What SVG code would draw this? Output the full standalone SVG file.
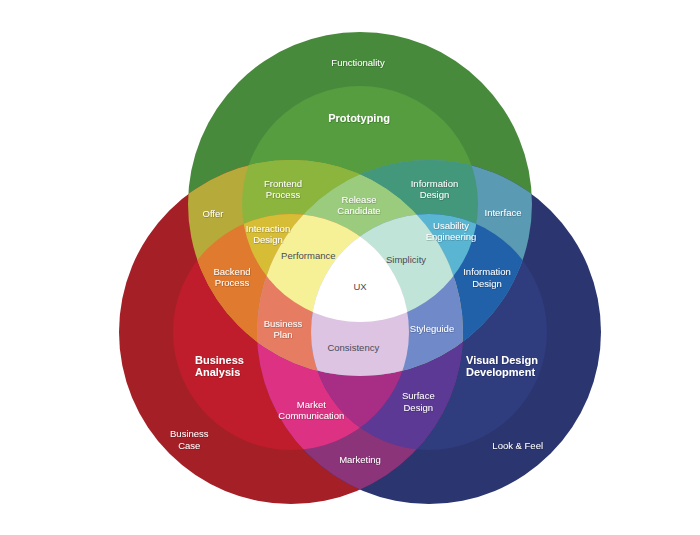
<svg xmlns="http://www.w3.org/2000/svg" width="700" height="535" viewBox="0 0 700 535">
<defs>
<clipPath id="cG1"><circle cx="360" cy="204" r="172"/></clipPath>
<clipPath id="cG2"><circle cx="360" cy="204" r="118"/></clipPath>
<clipPath id="cR1"><circle cx="291" cy="332" r="172"/></clipPath>
<clipPath id="cR2"><circle cx="291" cy="332" r="118"/></clipPath>
<clipPath id="cB1"><circle cx="429" cy="332" r="172"/></clipPath>
<clipPath id="cB2"><circle cx="429" cy="332" r="118"/></clipPath>
<filter id="sh" x="-10%" y="-30%" width="120%" height="160%"><feDropShadow dx="0.4" dy="0.6" stdDeviation="0.5" flood-color="#000" flood-opacity="0.35"/></filter>
</defs>
<style>
text{font-family:"Liberation Sans",Arial,sans-serif;font-size:9.5px;text-anchor:middle;fill:#ffffff}
.lt{filter:url(#sh)}
.dk{fill:#4a4a58}
.b{font-weight:bold;font-size:11px}
.l{text-anchor:start}
</style>
<rect width="700" height="535" fill="#ffffff"/>
<g id="regions">
<!-- sum 1 -->
<g id="functionality-area"><circle cx="360" cy="204" r="172" fill="#488a3b"/></g>
<g id="business-case-area"><circle cx="291" cy="332" r="172" fill="#a51f27"/></g>
<g id="look-feel-area"><circle cx="429" cy="332" r="172" fill="#2b356f"/></g>
<!-- sum 2 -->
<g id="prototyping-area"><circle cx="360" cy="204" r="118" fill="#559d3e"/></g>
<g id="business-analysis-area"><circle cx="291" cy="332" r="118" fill="#bf1d2b"/></g>
<g id="visual-design-area"><circle cx="429" cy="332" r="118" fill="#2f3c7e"/></g>
<g id="offer-area" clip-path="url(#cG1)"><circle cx="291" cy="332" r="172" fill="#b6aa3a"/></g>
<g id="interface-area" clip-path="url(#cG1)"><circle cx="429" cy="332" r="172" fill="#5a9ab3"/></g>
<g id="marketing-area" clip-path="url(#cR1)"><circle cx="429" cy="332" r="172" fill="#8b3479"/></g>
<!-- sum 3 -->
<g id="frontend-area" clip-path="url(#cR1)"><circle cx="360" cy="204" r="118" fill="#8cb53d"/></g>
<g id="backend-area" clip-path="url(#cG1)"><circle cx="291" cy="332" r="118" fill="#df7a2f"/></g>
<g id="info-design-green-area" clip-path="url(#cB1)"><circle cx="360" cy="204" r="118" fill="#43977a"/></g>
<g id="info-design-blue-area" clip-path="url(#cG1)"><circle cx="429" cy="332" r="118" fill="#2061a9"/></g>
<g id="market-communication-area" clip-path="url(#cB1)"><circle cx="291" cy="332" r="118" fill="#dd3283"/></g>
<g id="surface-design-area" clip-path="url(#cR1)"><circle cx="429" cy="332" r="118" fill="#5b3994"/></g>
<g id="triple-outer-area" clip-path="url(#cG1)"><g clip-path="url(#cR1)"><circle cx="429" cy="332" r="172" fill="#9bcb7c"/></g></g>
<!-- sum 4 -->
<g id="interaction-design-area" clip-path="url(#cG2)"><circle cx="291" cy="332" r="118" fill="#d6bd35"/></g>
<g id="usability-area" clip-path="url(#cG2)"><circle cx="429" cy="332" r="118" fill="#5ab5d3"/></g>
<g id="red-blue-inner-area" clip-path="url(#cR2)"><circle cx="429" cy="332" r="118" fill="#a82e85"/></g>
<g id="release-candidate-area" clip-path="url(#cR1)"><g clip-path="url(#cB1)"><circle cx="360" cy="204" r="118" fill="#9bcb7c"/></g></g>
<g id="business-plan-area" clip-path="url(#cG1)"><g clip-path="url(#cB1)"><circle cx="291" cy="332" r="118" fill="#e67d62"/></g></g>
<g id="styleguide-area" clip-path="url(#cG1)"><g clip-path="url(#cR1)"><circle cx="429" cy="332" r="118" fill="#6f89c9"/></g></g>
<!-- sum 5 -->
<g id="performance-area" clip-path="url(#cR2)"><g clip-path="url(#cB1)"><circle cx="360" cy="204" r="118" fill="#f6f196"/></g></g>
<g id="simplicity-area" clip-path="url(#cB2)"><g clip-path="url(#cR1)"><circle cx="360" cy="204" r="118" fill="#c0e5d8"/></g></g>
<g id="consistency-area" clip-path="url(#cB2)"><g clip-path="url(#cG1)"><circle cx="291" cy="332" r="118" fill="#dcc4e2"/></g></g>
<!-- sum 6 -->
<g id="ux-area" clip-path="url(#cR2)"><g clip-path="url(#cB2)"><circle cx="360" cy="204" r="118" fill="#ffffff"/></g></g>
</g>
<g id="labels">
<g id="label-functionality"><text class="lt" x="358" y="65.5">Functionality</text></g>
<g id="label-prototyping"><text class="lt b" x="359" y="122">Prototyping</text></g>
<g id="label-frontend"><text class="lt" x="283" y="186.7">Frontend<tspan x="283" y="197.5">Process</tspan></text></g>
<g id="label-release"><text class="lt" x="359" y="202.7">Release<tspan x="359" y="214">Candidate</tspan></text></g>
<g id="label-info-design-1"><text class="lt" x="434.5" y="187">Information<tspan x="434.5" y="198">Design</tspan></text></g>
<g id="label-offer"><text class="lt" x="213" y="216.6">Offer</text></g>
<g id="label-interface"><text class="lt" x="503" y="216">Interface</text></g>
<g id="label-interaction"><text class="lt" x="268" y="231.6">Interaction<tspan x="268" y="243">Design</tspan></text></g>
<g id="label-usability"><text class="lt" x="451" y="228.6">Usability<tspan x="451" y="240">Engineering</tspan></text></g>
<g id="label-performance"><text class="dk" x="308.3" y="259.3">Performance</text></g>
<g id="label-simplicity"><text class="dk" x="406" y="263.3">Simplicity</text></g>
<g id="label-backend"><text class="lt" x="232" y="275">Backend<tspan x="232" y="286.3">Process</tspan></text></g>
<g id="label-info-design-2"><text class="lt" x="487" y="275">Information<tspan x="487" y="286.6">Design</tspan></text></g>
<g id="label-ux"><text class="dk" x="360" y="290">UX</text></g>
<g id="label-business-plan"><text class="lt" x="283" y="326.6">Business<tspan x="283" y="337.6">Plan</tspan></text></g>
<g id="label-styleguide"><text class="lt" x="432" y="331.6">Styleguide</text></g>
<g id="label-consistency"><text class="dk" x="353.3" y="350.6">Consistency</text></g>
<g id="label-business-analysis"><text class="lt b l" x="195" y="364">Business<tspan x="195" y="376.3">Analysis</tspan></text></g>
<g id="label-visual-design"><text class="lt b l" x="466" y="364">Visual Design<tspan x="466" y="376.3">Development</tspan></text></g>
<g id="label-market-communication"><text class="lt" x="311.3" y="407.6">Market<tspan x="311.3" y="419">Communication</tspan></text></g>
<g id="label-surface-design"><text class="lt" x="418.3" y="399.3">Surface<tspan x="418.3" y="410.6">Design</tspan></text></g>
<g id="label-business-case"><text class="lt" x="189.3" y="437.3">Business<tspan x="189.3" y="448.6">Case</tspan></text></g>
<g id="label-look-feel"><text class="lt" x="517.7" y="448.6">Look &amp; Feel</text></g>
<g id="label-marketing"><text class="lt" x="360" y="462.6">Marketing</text></g>
</g>
</svg>
